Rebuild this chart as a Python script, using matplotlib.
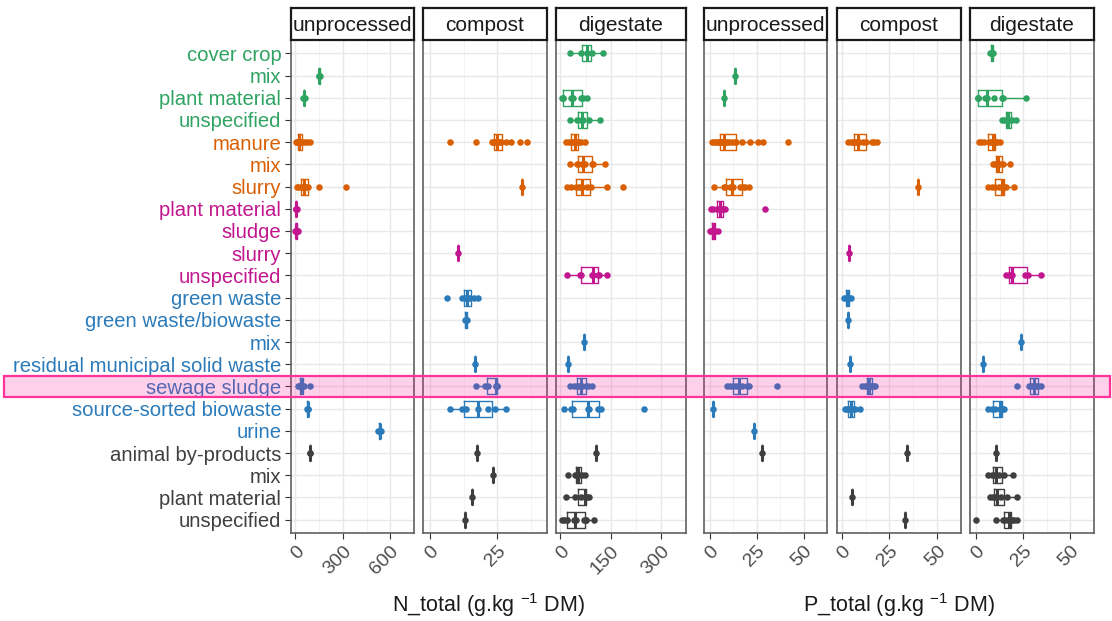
import matplotlib
matplotlib.use("Agg")
import matplotlib.pyplot as plt
from matplotlib.patches import Rectangle

plt.rcParams['font.family'] = ['Liberation Sans', 'DejaVu Sans']
plt.rcParams['mathtext.default'] = 'regular'

# rows, top to bottom
categories = ["cover crop", "mix", "plant material", "unspecified",
              "manure", "mix", "slurry",
              "plant material", "sludge", "slurry", "unspecified",
              "green waste", "green waste/biowaste", "mix",
              "residual municipal solid waste", "sewage sludge",
              "source-sorted biowaste", "urine",
              "animal by-products", "mix", "plant material", "unspecified"]
row_group = [0, 0, 0, 0, 1, 1, 1, 2, 2, 2, 2, 3, 3, 3, 3, 3, 3, 3, 4, 4, 4, 4]
group_colors = ["#2FA462", "#D95F02", "#C2168F", "#2B7BBA", "#3F3F3F"]

panel_names = ["unprocessed", "compost", "digestate"]

# one list of observations per row (g/kg DM)
N_unprocessed = [
    [], [148, 152, 156], [50, 55, 60], [],
    [5, 10, 15, 18, 20, 22, 25, 30, 35, 45, 60, 75, 90],
    [],
    [10, 20, 35, 45, 55, 60, 70, 80, 152, 320],
    [2, 4, 6, 8],
    [1, 3, 5, 8, 12, 15],
    [], [], [], [], [], [],
    [15, 25, 30, 35, 40, 45, 55, 90],
    [72, 78, 82],
    [525, 535, 540],
    [92, 96],
    [], [], [],
]
N_compost = [
    [], [], [], [],
    [7.5, 17, 23, 23.5, 24, 24.2, 24.5, 24.8, 25, 25.3, 26, 26.5, 28, 30, 33.5, 36],
    [],
    [34.2],
    [], [],
    [10.4],
    [],
    [6.4, 12, 13, 13.5, 14, 15, 16.5, 18],
    [13, 13.4, 13.8],
    [],
    [16.8],
    [17, 20.5, 21.5, 24.3, 24.6, 24.8, 25],
    [7.5, 12, 13.4, 17.7, 21.7, 24, 28],
    [],
    [17.4],
    [23.5],
    [15.5],
    [13.2],
]
N_digestate = [
    [29.5, 60, 78, 80, 95, 126],
    [],
    [5, 7, 9, 30, 38, 62, 66, 79],
    [29.5, 50, 62, 67, 85, 119],
    [16, 25, 30, 35, 40, 43, 45, 50, 55, 60, 72],
    [28, 48, 52, 65, 72, 94, 96, 133],
    [20, 30, 45, 55, 61, 65, 80, 90, 138, 188],
    [], [], [],
    [20.6, 58, 62, 95, 98, 112, 116, 137.6],
    [], [],
    [69.7],
    [22.5],
    [29.5, 40, 50, 55, 61, 65, 75, 82, 94],
    [10, 30, 36, 83, 84, 112, 120, 251],
    [],
    [107],
    [22.5, 43, 48, 52, 56, 65, 72],
    [16, 43, 60, 72, 75, 80, 86],
    [3.6, 10, 18, 20, 40, 45, 70, 75, 77, 99],
]
P_unprocessed = [
    [], [13.6], [7.7], [],
    [1.5, 2.5, 3.5, 4.5, 5, 5.5, 6, 6.5, 6.8, 7, 7.2, 8, 9, 10.5, 12, 13.6,
     14, 17, 21.6, 26, 28.4, 41.7],
    [],
    [2.4, 7.5, 8, 11, 11.8, 12.5, 16, 18, 19, 21],
    [0.5, 2, 4, 5, 5.4, 6, 7, 8, 29.6],
    [0.3, 1, 1.5, 2, 2.5, 3, 4.5],
    [], [], [], [], [], [],
    [9.5, 11, 12.5, 14, 15.5, 17, 20, 21, 35.9],
    [1.95],
    [23.5],
    [27.9],
    [], [], [],
]
P_compost = [
    [], [], [], [],
    [3.5, 5, 6, 6.5, 7, 8, 8.3, 9, 11, 12.8, 16, 17, 18.3],
    [],
    [40.2],
    [], [],
    [3.7],
    [],
    [1, 2, 3, 3.5, 4, 5],
    [3.3],
    [],
    [4.2],
    [10.5, 12, 13, 14, 14.5, 15, 16, 17, 17.5],
    [1.5, 3, 3.5, 4.5, 5, 6, 7, 9.4],
    [],
    [34.2],
    [],
    [5.6],
    [33.2],
]
P_digestate = [
    [7.5, 8.5, 9],
    [],
    [0.8, 1, 1.2, 4.5, 5.5, 9.2, 13.5, 14, 26.4],
    [13.5, 15, 16.2, 16.8, 17.5, 19, 21.3],
    [1.7, 2.5, 4.2, 7, 8, 8.5, 8.8, 9, 9.5, 10.5, 11, 12.8],
    [8.8, 10, 11, 11.8, 12.5, 14.4, 17.8],
    [6.5, 8.5, 10, 12, 13.5, 14, 15, 16, 20.2],
    [], [], [],
    [15.7, 17.2, 17.8, 18.9, 26, 27.5, 34.4],
    [], [],
    [23.6],
    [3.5],
    [21.6, 28, 29, 30.3, 31, 32.5, 33, 34.4],
    [6.5, 8.3, 10, 12.5, 13, 14, 14.5],
    [],
    [10.7],
    [6.5, 8.2, 9.5, 10.4, 12, 14.9, 19.5],
    [7.2, 8.8, 10, 11, 13, 16.3, 21.9],
    [0, 10.5, 14.4, 15.5, 16.8, 17.5, 18, 18.9, 20, 21.9],
]

N_ticks = [[0, 300, 600], [0, 25], [0, 150, 300]]
P_ticks = [[0, 25, 50], [0, 25, 50], [0, 25, 50]]
N_xlim = [(-27, 629), (-2.45, 43.3), (-13.4, 331)]
P_xlim = [(-3.0, 53.3), (-2.5, 52.9), (-3.3, 53.0)]

W, H = 1112, 621
fig = plt.figure(figsize=(W / 100, H / 100), dpi=100)

# panel edges in pixels (left, right)
panel_px = [(291, 414), (423, 547), (556, 686), (704, 827), (837, 961), (970, 1094)]
top_px, bot_px, strip_top = 40, 533, 8

panels = [N_unprocessed, N_compost, N_digestate, P_unprocessed, P_compost, P_digestate]
ticks = N_ticks + P_ticks
xlims = N_xlim + P_xlim
rows = list(range(len(categories)))

for k, (data, (x0, x1)) in enumerate(zip(panels, panel_px)):
    ax = fig.add_axes([x0 / W, 1 - bot_px / H, (x1 - x0) / W, (bot_px - top_px) / H])
    ax.set_xlim(*xlims[k])
    ax.set_ylim(len(categories) - 0.4, -0.6)
    tk = ticks[k]
    ax.set_xticks(tk)
    step = tk[1] - tk[0]
    ax.set_xticks([t + step / 2 for t in tk], minor=True)
    ax.grid(True, which="major", color="#E8E8E8", lw=1.0, zorder=0)
    ax.grid(True, which="minor", axis="x", color="#F2F2F2", lw=0.6, zorder=0)
    ax.set_axisbelow(True)
    for s in ax.spines.values():
        s.set_color("#606060")
        s.set_linewidth(1.2)
    ax.tick_params(axis="x", which="major", length=4, width=0.8, color="#333333",
                   labelsize=14, labelcolor="#4D4D4D", pad=3)
    ax.tick_params(axis="x", which="minor", length=0)
    ax.set_xticklabels([str(t) for t in tk], rotation=45, ha="right", va="top",
                       rotation_mode="anchor")
    ax.set_yticks(rows)
    if k == 0:
        ax.set_yticklabels(categories)
        ax.tick_params(axis="y", length=4, width=0.8, color="#333333", labelsize=14.6, pad=3)
        for lab, g in zip(ax.get_yticklabels(), row_group):
            lab.set_color(group_colors[g])
    else:
        ax.tick_params(axis="y", length=0, labelleft=False)

    for r in rows:
        vals = data[r]
        if not vals:
            continue
        c = group_colors[row_group[r]]
        ax.boxplot([vals], positions=[r], orientation="horizontal", widths=0.72,
                   showfliers=False, showcaps=False, manage_ticks=False,
                   boxprops=dict(color=c, lw=1.0),
                   whiskerprops=dict(color=c, lw=1.0),
                   medianprops=dict(color=c, lw=2.2))
        ax.scatter(vals, [r] * len(vals), s=22, color=c, zorder=3, linewidths=0)

    # facet strip
    sx = fig.add_axes([x0 / W, 1 - top_px / H, (x1 - x0) / W, (top_px - strip_top) / H])
    sx.set_xticks([])
    sx.set_yticks([])
    for s in sx.spines.values():
        s.set_color("#1A1A1A")
        s.set_linewidth(1.6)
    sx.text(0.5, 0.45, panel_names[k % 3], ha="center", va="center",
            fontsize=15, color="#1A1A1A", transform=sx.transAxes)

fig.text(488 / W, 1 - 605 / H, "N_total (g.kg $^{-1}$ DM)", ha="center", va="center",
         fontsize=15.5, color="#1A1A1A")
fig.text(899 / W, 1 - 605 / H, "P_total (g.kg $^{-1}$ DM)", ha="center", va="center",
         fontsize=15.5, color="#1A1A1A")

# highlight band on sewage sludge row
fig.add_artist(Rectangle((4 / W, 1 - 397 / H), 1106 / W, 21 / H, transform=fig.transFigure,
                         facecolor="#FF1493", alpha=0.2, edgecolor="none", zorder=10))
fig.add_artist(Rectangle((4 / W, 1 - 397 / H), 1106 / W, 21 / H, transform=fig.transFigure,
                         facecolor="none", edgecolor="#FF3399", lw=1.6, zorder=11))

fig.savefig("out.png", dpi=100)
